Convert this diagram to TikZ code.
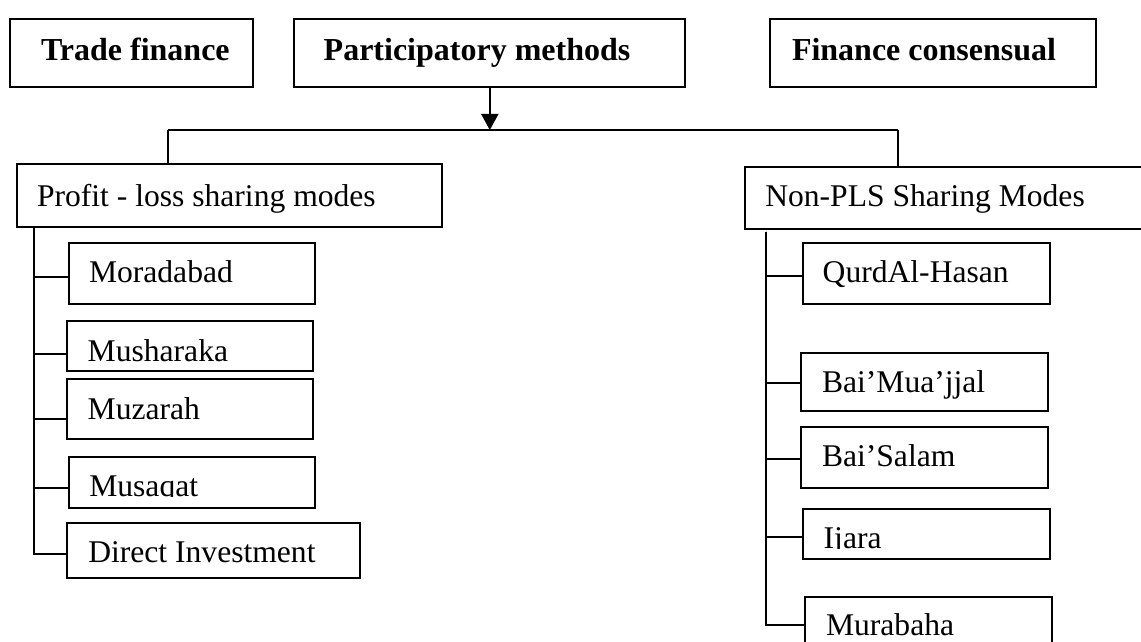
\documentclass[tikz,border=0pt]{standalone}
\usepackage{fontspec}
\setmainfont{Liberation Serif}
\usepackage{trimclip}
\usepackage{tikz}
\usetikzlibrary{arrows.meta,positioning}

\tikzset{
  head/.style={draw, rectangle, anchor=north west, inner sep=0pt, align=flush left,
    text height=20.5pt, text depth=13.35pt, font=\bfseries\fontsize{16}{19}\selectfont},
  mode/.style={draw, rectangle, anchor=north west, inner sep=0pt, align=flush left,
    font=\fontsize{15.8}{19}\selectfont},
  lead/.style={execute at begin node={\noindent\hspace*{#1}}},
}
\newcommand{\cut}[1]{\clipbox{0pt \depth{} 0pt 0pt}{#1}}

\begin{document}
\begin{tikzpicture}[x=0.5pt, y=-0.5pt, line width=1pt]
\useasboundingbox (0,0) rectangle (1141,642);

% top row
\node[head, lead=15.35pt, text width=121.5pt]  (trade)  at (9.3,18.3)   {Trade finance};
\node[head, lead=14.7pt,  text width=195.5pt]  (partic) at (293.3,18.3) {Participatory methods};
\node[head, lead=10.85pt, text width=162.85pt] (cons)   at (769.3,18.3) {Finance consensual};

% the two families
\node[mode, lead=10pt,    text width=212.25pt, text height=20.85pt, text depth=10.5pt]  (plsm)   at (16,163.3)  {Profit - loss sharing modes};
\node[mode, lead=10.15pt, text width=213pt,    text height=19.65pt, text depth=11.65pt] (nonpls) at (744,165.7) {Non-PLS Sharing Modes};

% profit - loss sharing
\node[mode, lead=10.15pt, text width=123.15pt, text height=20pt,    text depth=10.5pt] (morad)  at (67.7,241.7) {Moradabad};
\node[mode, lead=10.5pt,  text width=123.3pt,  text height=20pt,    text depth=5pt]    (mush)   at (65.7,320)   {Musharaka};
\node[mode, lead=10.5pt,  text width=123.15pt, text height=20.15pt, text depth=10pt]   (muz)    at (65.7,378)   {Muzarah};
\node[mode, lead=10.3pt,  text width=123.3pt,  text height=19.75pt, text depth=5.6pt]  (musq)   at (67.7,456)   {\cut{Musaqat}};
\node[mode, lead=10.8pt,  text width=146.65pt, text height=19.7pt,  text depth=7.8pt]  (direct) at (65.7,522.3) {Direct Investment};

% non-PLS
\node[mode, lead=10pt,   text width=123.65pt, text height=20pt,    text depth=10.5pt] (qurd)  at (801.7,241.7) {QurdAl-Hasan};
\node[mode, lead=10.5pt, text width=123.35pt, text height=20pt,    text depth=9.15pt] (muaj)  at (800,351.7)   {Bai’Mua’jjal};
\node[mode, lead=10.5pt, text width=123.35pt, text height=19.85pt, text depth=10.5pt] (salam) at (800,426)     {Bai’Salam};
\node[mode, lead=10.5pt, text width=123.65pt, text height=20pt,    text depth=5.3pt]  (ijara) at (801.7,507.7) {\cut{Ijara}};
\node[mode, lead=10.5pt, text width=123.35pt, text height=19pt,    text depth=13pt]   (murab) at (804,596)     {Murabaha};

\coordinate (busl) at (168.3,130);
\coordinate (busr) at (898.3,130);
\coordinate (tl) at (34,226);
\coordinate (tr) at (765.7,231.7);

% connect nodes
\draw[-{Triangle[length=8pt,width=8.5pt]}] (partic.south) -- (partic.south |- busl);
\draw (busl) -- (busr);
\draw (busl) -- (busl |- plsm.north);
\draw (busr) -- (busr |- nonpls.north);

\draw (tl) |- ([yshift=-1.75pt]morad.west);
\draw (tl) |- ([yshift=-4.15pt]mush.west);
\draw (tl) |- ([yshift=-4.75pt]muz.west);
\draw (tl) |- ([yshift=-2.7pt]musq.west);
\draw (tl) |- ([yshift=-1.75pt]direct.west);

\draw (tr) |- ([yshift=-1.4pt]qurd.west);
\draw (tr) |- ([yshift=-0.4pt]muaj.west);
\draw (tr) |- ([yshift=-0.7pt]salam.west);
\draw (tr) |- ([yshift=-1.5pt]ijara.west);
\draw (tr) |- ([yshift=2pt]murab.west);

\end{tikzpicture}
\end{document}
